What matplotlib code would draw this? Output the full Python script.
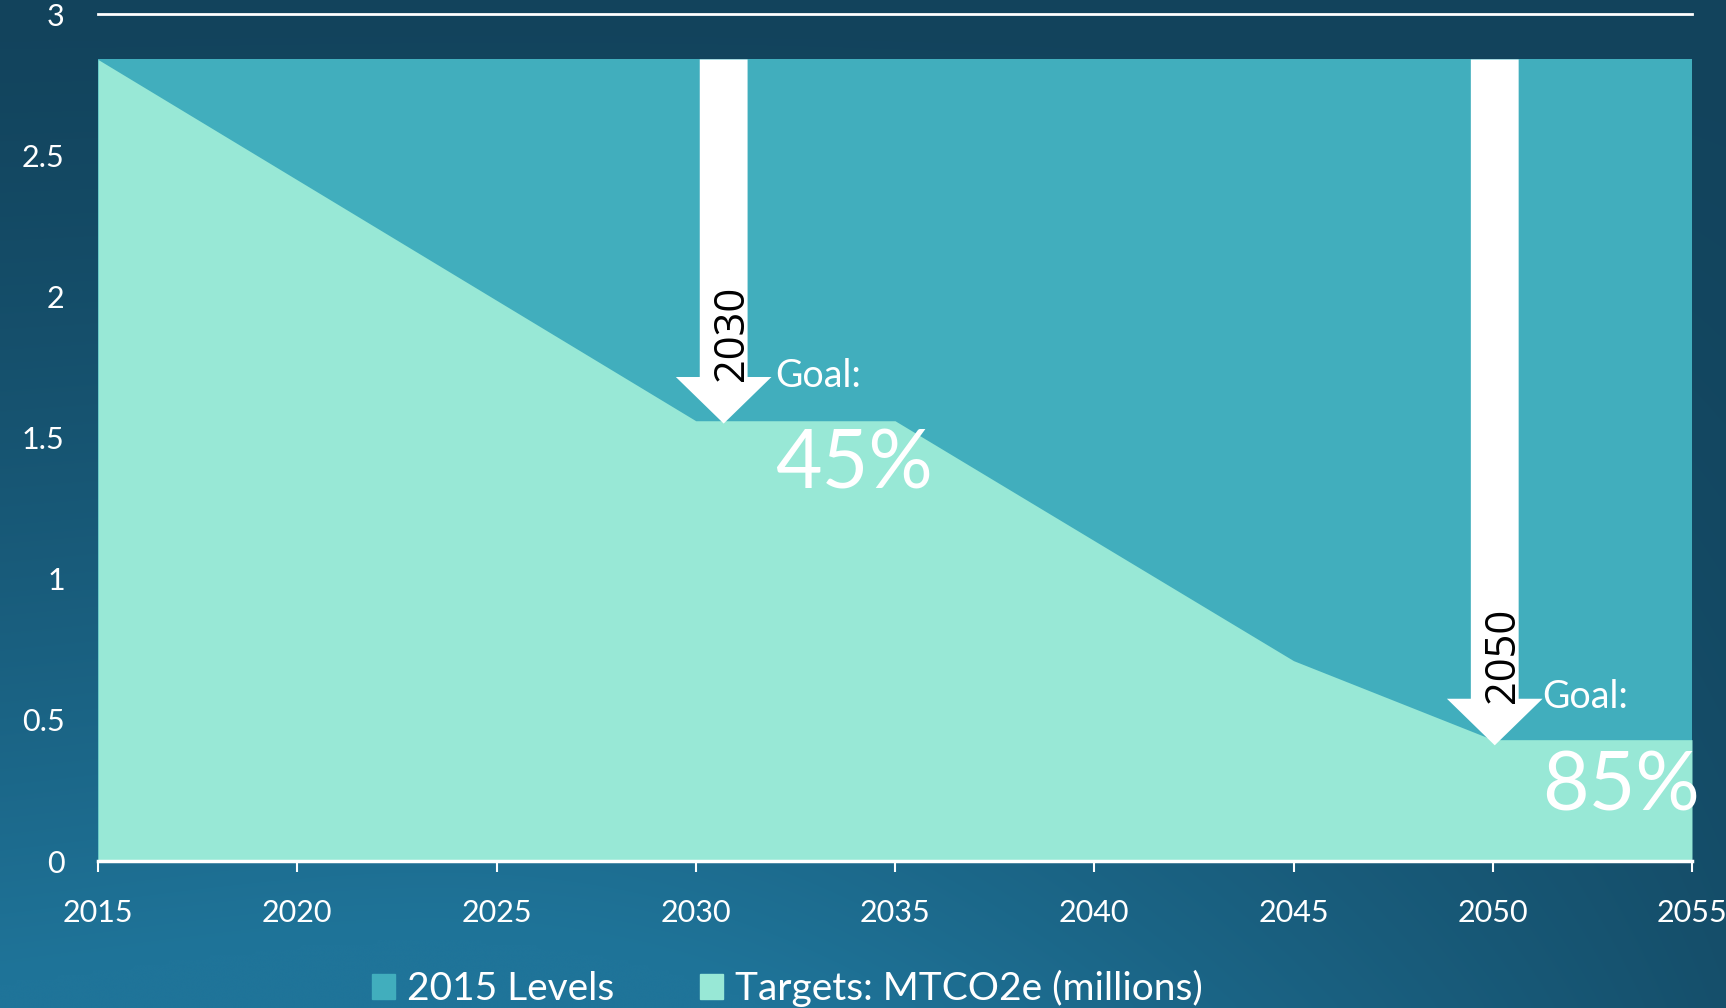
import numpy as np
import matplotlib.pyplot as plt
from matplotlib.patches import FancyArrow, Patch

# data
years = [2015, 2030, 2035, 2045, 2050, 2055]
targets = [2.84, 1.56, 1.56, 0.71, 0.43, 0.43]
level_2015 = 2.84
x_ticks = [2015, 2020, 2025, 2030, 2035, 2040, 2045, 2050, 2055]
y_ticks = [0, 0.5, 1, 1.5, 2, 2.5, 3]
y_tick_labels = ["0", "0.5", "1", "1.5", "2", "2.5", "3"]
goal_years = ["2030", "2050"]
goal_pcts = ["45%", "85%"]
arrow_x = [2030.7, 2050.05]
arrow_tip = [1.55, 0.41]

LEVEL_COLOR = "#41AEBD"
TARGET_COLOR = "#98E8D6"
FONT = ["Lato", "DejaVu Sans"]


def draw_background(fig):
    bg = fig.add_axes([0, 0, 1, 1], zorder=-10)
    h, w = 200, 340
    yy, xx = np.mgrid[0:1:h * 1j, 0:1:w * 1j]
    t = yy ** 1.3 * (1 - 0.75 * xx ** 2.2) + 0.15 * yy * np.exp(-((xx - 0.35) / 0.3) ** 2)
    t = np.clip(t, 0, 1)
    dark = np.array([0x12, 0x43, 0x5C]) / 255
    light = np.array([0x1F, 0x74, 0x99]) / 255
    img = dark[None, None, :] * (1 - t[..., None]) + light[None, None, :] * t[..., None]
    bg.imshow(img, aspect="auto", extent=[0, 1, 0, 1], interpolation="bicubic")
    bg.set_axis_off()


def main():
    plt.rcParams["font.family"] = FONT

    fig = plt.figure(figsize=(17.26, 10.08), dpi=100)
    draw_background(fig)

    ax = fig.add_axes([0.0568, 0.1458, 0.9235, 0.840])
    ax.set_facecolor("none")

    ax.fill_between([years[0], years[-1]], 0, level_2015, color=LEVEL_COLOR,
                    linewidth=0, zorder=2)
    ax.fill_between(years, 0, targets, color=TARGET_COLOR, linewidth=0, zorder=3)

    ax.set_xlim(x_ticks[0], x_ticks[-1])
    ax.set_ylim(0, 3)

    ax.axhline(3, color="white", linewidth=2, zorder=1, clip_on=False)

    # goal arrows and labels
    for gx, tip, yr, pct, tx in zip(arrow_x, arrow_tip, goal_years, goal_pcts,
                                     [2032.0, 2051.25]):
        arr = FancyArrow(gx, level_2015, 0, tip - level_2015, width=1.2,
                         head_width=2.4, head_length=0.165,
                         length_includes_head=True, color="white",
                         linewidth=0, zorder=5)
        ax.add_patch(arr)
        ax.text(gx + 0.2, tip + 0.32, yr, rotation=90, color="black",
                fontsize=30, ha="center", va="center", zorder=6,
                family=["Open Sans", "DejaVu Sans"])
        ax.text(tx, tip + 0.17, "Goal:", color="white", fontsize=27,
                ha="left", va="center", zorder=6)
        ax.text(tx, tip - 0.15, pct, color="white", fontsize=58,
                ha="left", va="center", zorder=6)

    ax.set_xticks(x_ticks)
    ax.set_xticklabels([str(x) for x in x_ticks])
    ax.set_yticks(y_ticks)
    ax.set_yticklabels(y_tick_labels)
    ax.tick_params(axis="x", colors="white", labelsize=22, length=8, width=1.5,
                   pad=19, direction="out")
    ax.tick_params(axis="y", colors="white", labelsize=22, length=0, pad=24)

    for side in ["top", "right", "left"]:
        ax.spines[side].set_visible(False)
    ax.spines["bottom"].set_color("white")
    ax.spines["bottom"].set_linewidth(2.5)
    ax.spines["bottom"].set_zorder(7)

    handles = [Patch(color=LEVEL_COLOR, label="2015 Levels"),
               Patch(color=TARGET_COLOR, label="Targets: MTCO2e (millions)")]
    fig.legend(handles=handles, loc="center", bbox_to_anchor=(0.456, 0.019),
               ncol=2, frameon=False, fontsize=28, labelcolor="white",
               handlelength=0.6, handleheight=0.6, handletextpad=0.3,
               columnspacing=2.2)

    plt.savefig("out.png", dpi=100)


if __name__ == "__main__":
    main()
